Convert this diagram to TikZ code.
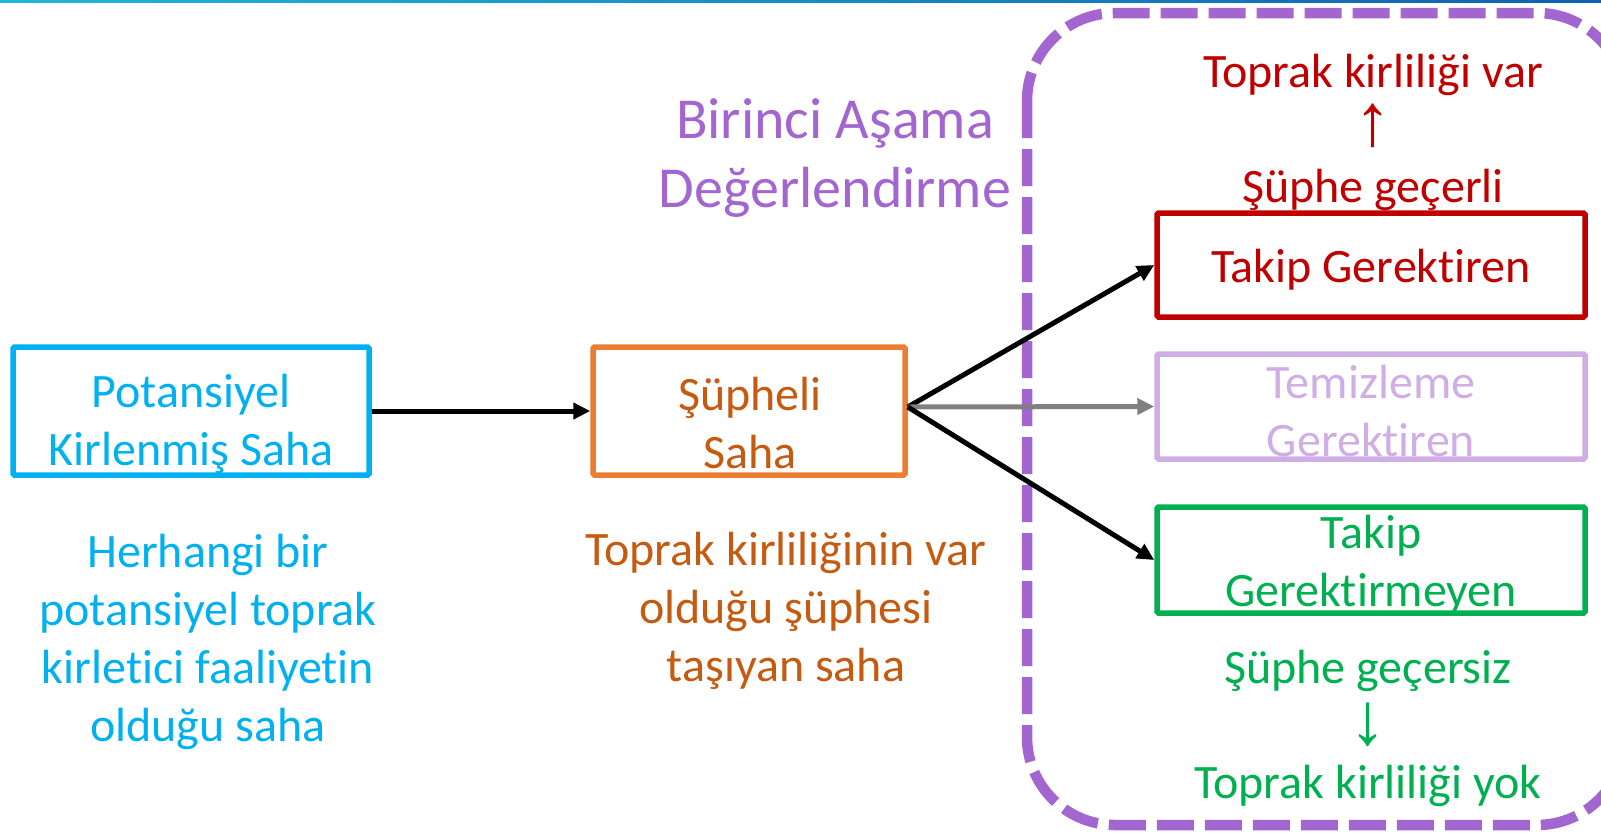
\documentclass[tikz,border=0pt]{standalone}
\usepackage{fontspec}
\setmainfont{Carlito}[Ligatures={NoCommon,NoContextual,NoRare}, Contextuals={NoAlternate}]
\newfontfamily\arrowfont{Liberation Sans}
\newcommand{\tsep}{\kern0pt}
\usetikzlibrary{arrows.meta}
\definecolor{cblue}{HTML}{00B0F0}
\definecolor{corange}{HTML}{ED7D31}
\definecolor{corangetext}{HTML}{C55A11}
\definecolor{cred}{HTML}{C00000}
\definecolor{cpurple}{HTML}{A366D1}
\definecolor{clight}{HTML}{CFAEE6}
\definecolor{cgreen}{HTML}{00B050}
\definecolor{cgray}{HTML}{808080}
\definecolor{ctopA}{HTML}{20B8D8}
\definecolor{ctopB}{HTML}{1060B0}
\tikzset{
  boxnode/.style={draw, line width=5.5pt, minimum width=#1, inner sep=0pt, rounded corners=1.5pt},
  txt/.style={align=center, inner sep=0pt, font=\fontsize{48}{58}\selectfont},
  title/.style={align=center, inner sep=0pt, font=\fontsize{58}{69}\selectfont, text=cpurple},
  arr/.style={line width=5pt, -{Triangle[length=17pt,width=16pt]}},
  dashbox/.style={draw=cpurple, line width=10.5pt, dash pattern=on 37pt off 11pt, rounded corners=88pt},
  symb/.style={inner sep=0pt, anchor=base, text height=48pt, text depth=0pt, font=\arrowfont\fontsize{74}{74}\selectfont}
}
\begin{document}
\begin{tikzpicture}[x=1pt,y=-1pt]
\useasboundingbox (0,0) rectangle (1601,836);
\fill[left color=ctopA, right color=ctopB] (0,0) rectangle (1601,2);

% dashed stage frame
\draw[dashbox] (1027,13) rectangle (1625,825);

% title
\node[title] (title) at (835,158) {Birinci Aşama\\Değerlendirme};

% boxes
\node[boxnode=356pt, draw=cblue, minimum height=128pt] (pot) at (191,411) {};
\node[boxnode=312pt, draw=corange, minimum height=128pt] (sup) at (749,411) {};
\node[boxnode=428pt, draw=cred, minimum height=104pt] (tak) at (1371,265) {};
\node[boxnode=428pt, draw=clight, minimum height=105pt] (tem) at (1371,406.5) {};
\node[boxnode=428pt, draw=cgreen, minimum height=106pt] (tgm) at (1371,560) {};

% box texts
\node[txt, text=cblue] (potT) at (191,424) {Potansiyel\\Kirlenmiş Saha};
\node[txt, text=corangetext] (supT) at (750,423) {Şüpheli\\Saha};
\node[txt, text=cred] (takT) at (1371,270) {Takip Gerekt\tsep iren};
\node[txt, text=clight] (temT) at (1371,411) {Temizleme\\Gerekt\tsep iren};
\node[txt, text=cgreen] (tgmT) at (1371,565) {Takip\\Gerekt\tsep irmeyen};

% descriptions
\node[txt, text=cblue] (potD) at (208,642) {Herhangi bir\\potansiyel toprak\\kirlet\tsep ici faaliyet\tsep in\\olduğu saha};
\node[txt, text=corangetext] (supD) at (786,611) {Toprak kirliliğinin var\\olduğu şüphesi\\taşıyan saha};

% right side notes
\node[txt, text=cred] (var) at (1373,75) {Toprak kirliliği var};
\node[symb, text=cred] (up) at (1373,145) {↑};
\node[txt, text=cred] (gec) at (1373,190) {Şüphe geçerli};
\node[txt, text=cgreen] (gsz) at (1368,671) {Şüphe geçersiz};
\node[symb, text=cgreen] (down) at (1368,744) {↓};
\node[txt, text=cgreen] (yok) at (1368,786) {Toprak kirliliği yok};

% connectors
\draw[arr] (pot.east) -- (sup.west);
\coordinate (src) at ([yshift=4pt]sup.east);
\draw[arr] (src) -- (tak.west);
\draw[arr, draw=cgray, fill=cgray] (src) -- (tem.west);
\draw[arr] (src) -- (tgm.west);
\end{tikzpicture}
\end{document}
